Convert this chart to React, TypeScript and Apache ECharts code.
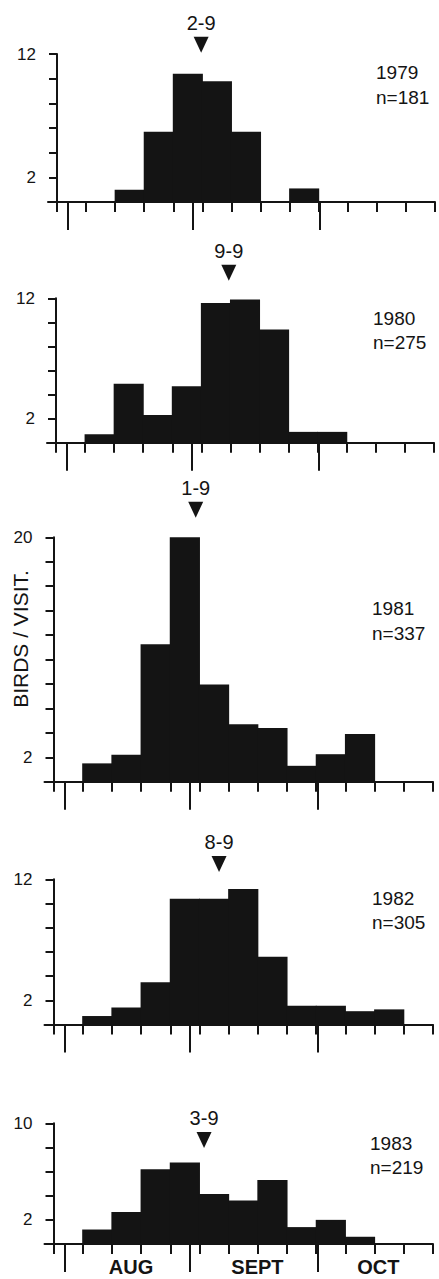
import React, { useEffect, useRef } from "react";
import * as echarts from "echarts";

// ---- data ----
const years = ["1979", "1980", "1981", "1982", "1983"];
const sampleSizes = ["n=181", "n=275", "n=337", "n=305", "n=219"];
const medianLabels = ["2-9", "9-9", "1-9", "8-9", "3-9"];
// median date position, in days from the start of the first weekly bin
const medianDay = [34.7, 41.6, 34.1, 39.7, 36.1];
// height (in birds/visit units) of the arrow tip
const arrowLevel = [12.1, 13.45, 21.6, 12.6, 7.95];
const yMax = [12, 12, 20, 12, 10];
const labelledTicks = [2];

// weekly bin edges (days)
const weekEdges = [0, 7, 14, 21, 28, 35, 42, 49, 56, 63, 70, 77, 84, 91];
const monthStarts = [2.7, 32.6, 63.3];
const monthCentres = [18.6, 48.9, 77.9];
const monthNames = ["AUG", "SEPT", "OCT"];

// birds per visit, one value per weekly bin (13 bins)
const birds1979 = [0, 0, 1.0, 5.7, 10.4, 9.8, 5.7, 0, 1.1, 0, 0, 0, 0];
const birds1980 = [0, 0.7, 4.9, 2.3, 4.7, 11.6, 11.9, 9.4, 0.9, 0.9, 0, 0, 0];
const birds1981 = [0, 1.5, 2.2, 11.25, 20, 7.95, 4.7, 4.4, 1.3, 2.25, 3.9, 0, 0];
const birds1982 = [0, 0.7, 1.4, 3.5, 10.4, 10.4, 11.2, 5.6, 1.55, 1.55, 1.1, 1.25, 0];
const birds1983 = [0, 1.2, 2.65, 6.2, 6.75, 4.15, 3.6, 5.3, 1.4, 2.0, 0.6, 0, 0];
const seriesValues = [birds1979, birds1980, birds1981, birds1982, birds1983];

// ---- layout (pixels) ----
const panels = [
  { axisX: 57, right: 435, top: 54, base: 202, textX: 376, yearY: 72, nY: 97 },
  { axisX: 56, right: 434, top: 298.3, base: 442.7, textX: 373, yearY: 318, nY: 342 },
  { axisX: 53.5, right: 433, top: 537.3, base: 781.7, textX: 372, yearY: 608, nY: 633 },
  { axisX: 53.5, right: 433, top: 879.3, base: 1024.5, textX: 372, yearY: 898, nY: 922 },
  { axisX: 53.5, right: 433, top: 1123.3, base: 1244, textX: 370, yearY: 1143, nY: 1167 },
];
const OVERHANG = 9;
const INK = "#141414";
const FONT = "'Liberation Sans', Arial, Helvetica, sans-serif";

function buildOption() {
  const grid: any[] = [];
  const xAxis: any[] = [];
  const yAxis: any[] = [];
  const series: any[] = [];
  const graphic: any[] = [];
  const line = { color: INK, width: 2 };

  panels.forEach((p, i) => {
    const lastDay = weekEdges[weekEdges.length - 1];
    const pxPerDay = (p.right - p.axisX) / lastDay;
    const xMin = -OVERHANG / pxPerDay;
    const gl = p.axisX - OVERHANG;
    grid.push({ left: gl, top: p.top, width: p.right - gl, height: p.base - p.top });

    xAxis.push({
      type: "value",
      gridIndex: i,
      min: xMin,
      max: lastDay,
      position: "bottom",
      axisLine: { show: true, onZero: false, lineStyle: line },
      axisTick: { show: true, customValues: weekEdges, length: 10, lineStyle: line },
      axisLabel: { show: false },
      splitLine: { show: false },
    });
    const last = i === panels.length - 1;
    xAxis.push({
      type: "value",
      gridIndex: i,
      min: xMin,
      max: lastDay,
      position: "bottom",
      axisLine: { show: false, onZero: false },
      axisTick: { show: true, customValues: monthStarts, length: 28, lineStyle: line },
      axisLabel: {
        show: last,
        customValues: monthCentres,
        formatter: (v: number) => {
          let best = 0;
          monthCentres.forEach((c, k) => {
            if (Math.abs(c - v) < Math.abs(monthCentres[best] - v)) best = k;
          });
          return monthNames[best];
        },
        margin: 13,
        color: INK,
        fontFamily: FONT,
        fontSize: 20,
        fontWeight: "bold",
      },
      splitLine: { show: false },
    });

    const max = yMax[i];
    yAxis.push({
      type: "value",
      gridIndex: i,
      min: 0,
      max,
      interval: 2,
      axisLine: { show: true, onZero: true, lineStyle: line },
      axisTick: { show: true, length: 8, lineStyle: line },
      axisLabel: {
        formatter: (v: number) => (labelledTicks.includes(v) || v === max ? String(v) : ""),
        margin: 12,
        color: INK,
        fontFamily: FONT,
        fontSize: 17,
      },
      splitLine: { show: false },
    });

    const vals = seriesValues[i];
    const barData: number[][] = [];
    vals.forEach((v, k) => {
      if (v > 0) barData.push([weekEdges[k], weekEdges[k + 1], v]);
    });
    series.push({
      type: "custom",
      xAxisIndex: 2 * i,
      yAxisIndex: i,
      data: barData,
      silent: true,
      renderItem: (_params: any, api: any) => {
        const s = api.coord([api.value(0), api.value(2)]);
        const e = api.coord([api.value(1), 0]);
        return {
          type: "rect",
          shape: { x: s[0] - 0.5, y: s[1], width: e[0] - s[0] + 1, height: e[1] - s[1] },
          style: { fill: INK },
        };
      },
    });

    const label = medianLabels[i];
    series.push({
      type: "custom",
      xAxisIndex: 2 * i,
      yAxisIndex: i,
      data: [[medianDay[i], arrowLevel[i]]],
      clip: false,
      silent: true,
      renderItem: (_params: any, api: any) => {
        const t = api.coord([api.value(0), api.value(1)]);
        return {
          type: "group",
          children: [
            {
              type: "polygon",
              shape: {
                points: [
                  [t[0] - 7.5, t[1] - 16],
                  [t[0] + 7.5, t[1] - 16],
                  [t[0], t[1]],
                ],
              },
              style: { fill: INK },
            },
            {
              type: "text",
              x: t[0],
              y: t[1] - 30,
              style: {
                text: label,
                fill: INK,
                fontFamily: FONT,
                fontSize: 20,
                align: "center",
                verticalAlign: "middle",
                textAlign: "center",
                textVerticalAlign: "middle",
              },
            },
          ],
        };
      },
    });

    [
      [years[i], p.yearY],
      [sampleSizes[i], p.nY],
    ].forEach(([txt, y]) => {
      graphic.push({
        type: "text",
        x: p.textX,
        y: y as number,
        silent: true,
        style: {
          text: txt,
          fill: INK,
          fontFamily: FONT,
          fontSize: 19,
          align: "left",
          verticalAlign: "middle",
          textAlign: "left",
          textVerticalAlign: "middle",
        },
      });
    });
  });

  graphic.push({
    type: "text",
    x: 20,
    y: 639,
    rotation: Math.PI / 2,
    silent: true,
    style: {
      text: "BIRDS / VISIT.",
      fill: INK,
      fontFamily: FONT,
      fontSize: 21,
      align: "center",
      verticalAlign: "middle",
      textAlign: "center",
      textVerticalAlign: "middle",
    },
  });

  return {
    animation: false,
    backgroundColor: "#ffffff",
    grid,
    xAxis,
    yAxis,
    series,
    graphic,
  };
}

export default function App() {
  const ref = useRef<HTMLDivElement>(null);
  useEffect(() => {
    if (!ref.current) return;
    const chart = echarts.init(ref.current, undefined, { renderer: "svg" });
    chart.setOption(buildOption() as any);
    return () => chart.dispose();
  }, []);
  return (
    <div
      ref={ref}
      style={{ position: "fixed", left: 0, top: 0, width: 439, height: 1279, background: "#fff" }}
    />
  );
}
